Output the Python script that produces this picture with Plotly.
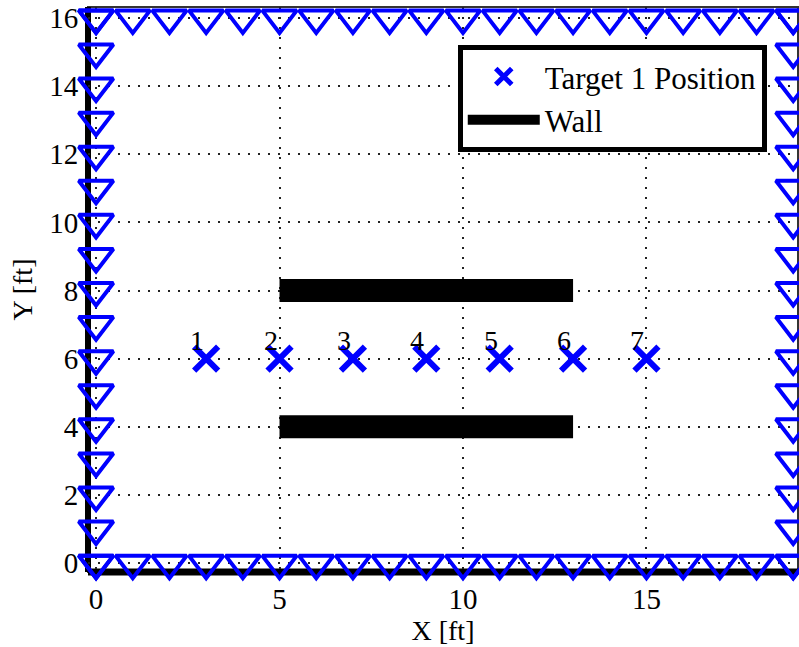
import plotly.graph_objects as go

# ---- data ----
sensor_bottom_x = [0, 1, 2, 3, 4, 5, 6, 7, 8, 9, 10, 11, 12, 13, 14, 15, 16, 17, 18, 19]
sensor_bottom_y = [0] * 20
sensor_top_x = [0, 1, 2, 3, 4, 5, 6, 7, 8, 9, 10, 11, 12, 13, 14, 15, 16, 17, 18, 19]
sensor_top_y = [16] * 20
sensor_left_x = [0] * 17
sensor_left_y = [0, 1, 2, 3, 4, 5, 6, 7, 8, 9, 10, 11, 12, 13, 14, 15, 16]
sensor_right_x = [19] * 17
sensor_right_y = [0, 1, 2, 3, 4, 5, 6, 7, 8, 9, 10, 11, 12, 13, 14, 15, 16]

target_x = [3, 5, 7, 9, 11, 13, 15]
target_y = [6, 6, 6, 6, 6, 6, 6]
target_labels = ["1", "2", "3", "4", "5", "6", "7"]

wall1_x = [5, 13]
wall1_y = [8, 8]
wall2_x = [5, 13]
wall2_y = [4, 4]

x_ticks = [0, 5, 10, 15]
y_ticks = [0, 2, 4, 6, 8, 10, 12, 14, 16]

FONT = "Liberation Serif"
BLUE = "#0000ff"

fig = go.Figure()

sx = sensor_bottom_x + sensor_top_x + sensor_left_x + sensor_right_x
sy = sensor_bottom_y + sensor_top_y + sensor_left_y + sensor_right_y
fig.add_trace(go.Scatter(
    x=sx, y=sy, mode="markers", showlegend=False, cliponaxis=False,
    marker=dict(symbol="triangle-down-open", size=30, color=BLUE,
                line=dict(width=4, color=BLUE)),
    hoverinfo="skip"))

fig.add_trace(go.Scatter(
    x=target_x, y=target_y, mode="markers", name="Target 1 Position",
    marker=dict(symbol="x-thin-open", size=24, color=BLUE,
                line=dict(width=6, color=BLUE))))

fig.add_trace(go.Scatter(
    x=wall1_x, y=wall1_y, mode="lines", name="Wall",
    line=dict(color="black", width=23)))
fig.add_trace(go.Scatter(
    x=wall2_x, y=wall2_y, mode="lines", name="Wall", showlegend=False,
    line=dict(color="black", width=23)))

for tx, ty, lab in zip(target_x, target_y, target_labels):
    fig.add_annotation(x=tx, y=ty, text=lab, showarrow=False,
                       xshift=-9, yshift=18, xanchor="center", yanchor="middle",
                       font=dict(family=FONT, size=28, color="black"))

axis_common = dict(
    showgrid=True, gridcolor="#222222", griddash="2px,8px", gridwidth=1.5,
    zeroline=False, showline=False,
    ticks="outside", tickcolor="rgba(0,0,0,0)", tickwidth=1,
    tickfont=dict(family=FONT, size=29, color="black"),
    layer="below traces", automargin=False, ticklabeloverflow="allow",
)

fig.update_xaxes(range=[-0.22, 19.13], tickvals=x_ticks, ticklen=1,
                 title=dict(text="X [ft]", font=dict(family=FONT, size=28, color="black"), standoff=2),
                 **axis_common)
fig.update_yaxes(range=[-0.26, 16.32], tickvals=y_ticks, ticklen=3,
                 title=dict(text="Y [ft]", font=dict(family=FONT, size=28, color="black"), standoff=8),
                 **axis_common)

# axes frame: thin top/right box, thick left/bottom axis lines
fig.add_shape(type="rect", xref="paper", yref="paper", x0=0, x1=1, y0=0, y1=1,
              line=dict(color="#333333", width=2), layer="between")
fig.add_shape(type="line", xref="paper", yref="paper", x0=0, x1=0, y0=0, y1=1,
              line=dict(color="black", width=6), layer="between")
fig.add_shape(type="line", xref="paper", yref="paper", x0=0, x1=1, y0=0, y1=0,
              line=dict(color="black", width=7), layer="between")

fig.update_layout(
    width=799, height=647,
    margin=dict(l=88, r=1, t=7, b=75),
    plot_bgcolor="white", paper_bgcolor="white",
    font=dict(family=FONT, color="black"),
    legend=dict(x=0.956, xanchor="right", y=0.933, yanchor="top",
                bgcolor="white", bordercolor="black", borderwidth=5,
                font=dict(family=FONT, size=31, color="black"),
                itemwidth=72, tracegroupgap=0),
)

fig.write_html("out.html", config={"displayModeBar": False},
               post_script="document.body.style.margin='0px';")
